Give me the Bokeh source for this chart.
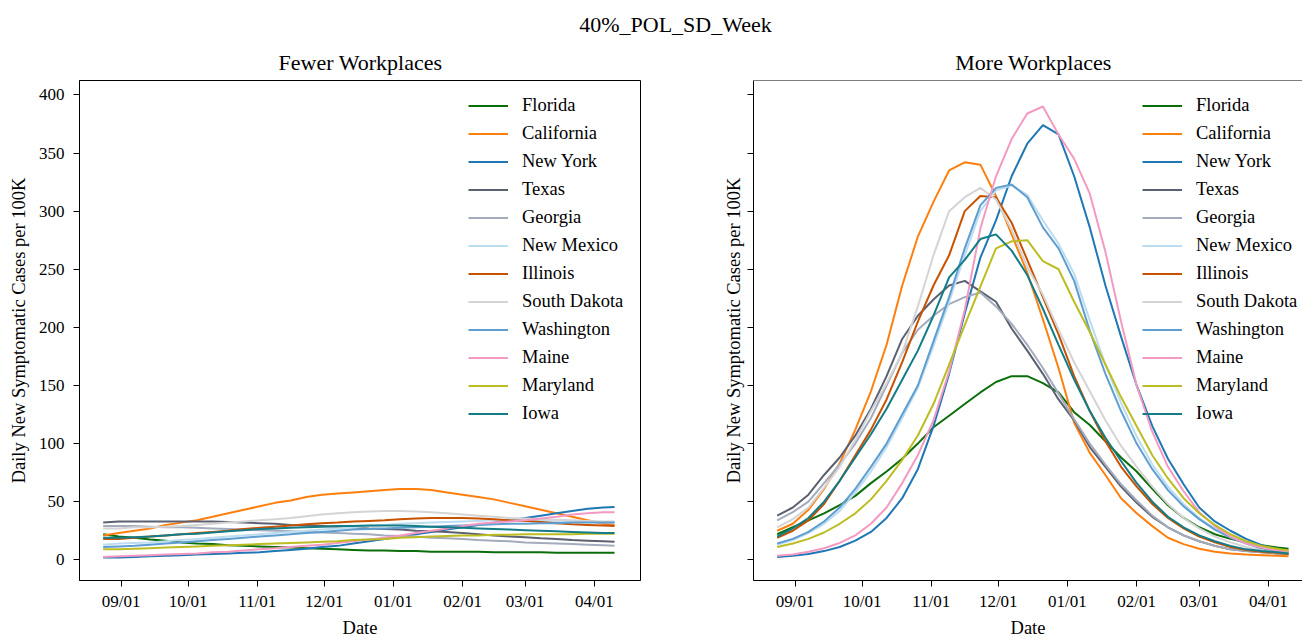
import pandas as pd
from bokeh.plotting import figure
from bokeh.models import (Range1d, FixedTicker, DatetimeTickFormatter, Legend, LegendItem,
                          Label, Span)
from bokeh.layouts import column, row
from bokeh.embed import file_html
from bokeh.resources import INLINE

# ---------------- data (weekly readings) ----------------
dates = pd.to_datetime([
    "2020-08-24", "2020-08-31", "2020-09-07", "2020-09-14", "2020-09-21", "2020-09-28",
    "2020-10-05", "2020-10-12", "2020-10-19", "2020-10-26", "2020-11-02", "2020-11-09",
    "2020-11-16", "2020-11-23", "2020-11-30", "2020-12-07", "2020-12-14", "2020-12-21",
    "2020-12-28", "2021-01-04", "2021-01-11", "2021-01-18", "2021-01-25", "2021-02-01",
    "2021-02-08", "2021-02-15", "2021-02-22", "2021-03-01", "2021-03-08", "2021-03-15",
    "2021-03-22", "2021-03-29", "2021-04-05", "2021-04-10"])

tick_dates = ["2020-09-01", "2020-10-01", "2020-11-01", "2020-12-01",
              "2021-01-01", "2021-02-01", "2021-03-01", "2021-04-01"]
y_ticks = [0, 50, 100, 150, 200, 250, 300, 350, 400]

states = ["Florida", "California", "New York", "Texas", "Georgia", "New Mexico",
          "Illinois", "South Dakota", "Washington", "Maine", "Maryland", "Iowa"]
colors = ["#0a6e0a", "#ff7f0e", "#1f77b4", "#5b6170", "#a3abbd", "#bcdcf0",
          "#c85200", "#d4d4d4", "#5f9ed1", "#f49ac2", "#bcbd22", "#137c87"]

# Fewer Workplaces
fewer_florida = [22, 20, 19, 17.5, 16.5, 15, 14, 13.5, 12.5, 12, 11.5, 11, 10.5, 10, 9.5, 9, 8.5, 8,
                 8, 7.5, 7.5, 7, 7, 7, 7, 6.5, 6.5, 6.5, 6.5, 6, 6, 6, 6, 6]
fewer_california = [21, 23, 25, 27, 30, 32, 34, 37, 40, 43, 46, 49, 51, 54, 56, 57, 58, 59,
                    60, 61, 61, 60, 58, 56, 54, 52, 49, 46, 43, 40, 37, 34, 31, 30]
fewer_newyork = [2, 2, 2.5, 3, 3.5, 4, 4.5, 5, 5.5, 6, 6.5, 7.5, 8.5, 9.5, 11, 12, 14, 16,
                 18, 20, 22, 24, 26, 28, 30, 32, 34, 36, 38, 40, 42, 44, 45, 45.5]
fewer_texas = [32, 33, 33, 33, 33, 33, 33, 33, 32.5, 32, 31.5, 31, 30, 29.5, 29, 28.5, 28, 27,
               26.5, 26, 25, 24.5, 24, 23, 22, 21, 20, 19.5, 18.5, 18, 17, 16.5, 16, 15.5]
fewer_georgia = [29, 29, 29, 28.5, 28, 28, 27.5, 27, 26.5, 26, 25.5, 25, 24.5, 24, 23.5, 23, 22.5, 22,
                 21, 20.5, 20, 19, 18.5, 18, 17, 16.5, 16, 15, 14.5, 14, 13.5, 13, 12.5, 12]
fewer_newmexico = [13, 14, 14.5, 15, 16, 17, 18, 19, 20, 21, 22, 23, 24, 25, 26, 27, 28, 29,
                   30, 31, 31.5, 32, 32.5, 33, 33.5, 34, 34, 34, 33.5, 33, 33, 32.5, 32, 32]
fewer_illinois = [18, 18, 19, 20, 21, 22, 23, 24, 25, 26.5, 27.5, 28.5, 29.5, 30.5, 31.5, 32, 33, 33.5,
                  34, 35, 35.5, 36, 36, 36, 35.5, 35, 34, 33.5, 32.5, 31.5, 30.5, 30, 29.5, 29]
fewer_southdakota = [27, 27, 28, 28, 28.5, 29, 30, 31, 32, 33, 34, 35, 36, 37.5, 39, 40, 41, 41.5,
                     42, 42, 41.5, 41, 40, 39, 38, 37, 36, 35.5, 35, 34.5, 34, 33.5, 33, 33]
fewer_washington = [11, 11.5, 12, 13, 14, 15, 16, 17, 18, 19, 20, 21, 22, 23, 24, 25, 26, 26.5,
                    27, 27.5, 28, 28.5, 29, 29.5, 30, 30.5, 31, 31, 31.5, 31.5, 32, 32, 32, 32]
fewer_maine = [2.5, 3, 3.5, 4, 4.5, 5, 5.5, 6.5, 7, 8, 9, 10, 11, 12, 13, 14.5, 16, 17.5,
               19, 21, 23, 25, 27, 29, 31, 32, 33, 34, 35.5, 37, 39, 40, 41, 41]
fewer_maryland = [9, 9, 9.5, 10, 10.5, 11, 11.5, 12, 12.5, 13, 13.5, 14, 14.5, 15, 15.5, 16, 17, 17.5,
                  18, 19, 19.5, 20, 20.5, 21, 21, 21.5, 21.5, 22, 22, 22, 22, 22.5, 22.5, 22.5]
fewer_iowa = [19, 19, 19.5, 20, 21, 22, 22.5, 23.5, 24.5, 25.5, 26.5, 27, 27.5, 28, 28.5, 29, 29, 29.5,
              29.5, 29.5, 29, 28.5, 28, 27.5, 27, 26.5, 26, 25.5, 25, 24.5, 24, 23.5, 23, 23]

# More Workplaces
more_florida = [22, 28, 34, 40, 47, 55, 66, 76, 87, 100, 114, 124, 134, 144, 153, 158, 158, 152,
                144, 127, 116, 102, 88, 76, 61, 47, 36, 28, 22, 18, 15, 12.5, 10.5, 9.5]
more_california = [25, 31, 43, 61, 83, 112, 145, 185, 236, 278, 308, 335, 342, 340, 313, 280, 247, 207,
                    165, 118, 92, 73, 53, 40, 29, 19, 13.5, 9.5, 7, 5.5, 4.5, 4, 3.5, 3]
more_newyork = [2.5, 3.5, 5, 7.5, 11, 16.5, 24, 36, 53, 78, 115, 160, 212, 260, 292, 330, 358, 374,
                366, 330, 286, 236, 192, 150, 115, 87, 65, 45, 33, 25, 18, 12.5, 8.5, 6]
more_texas = [38, 45, 56, 73, 88, 107, 130, 158, 190, 210, 224, 236, 240, 231, 222, 199, 180, 160,
              138, 120, 97, 80, 63, 49, 37, 28, 21, 16, 12, 9, 7.5, 6.5, 5.5, 5]
more_georgia = [34, 41, 50, 66, 82, 100, 122, 150, 178, 198, 210, 220, 226, 230, 218, 203, 185, 165,
                143, 121, 100, 82, 65, 51, 38, 28, 21, 16, 12, 9, 7.5, 6.5, 5.5, 5]
more_newmexico = [13, 17, 23, 31, 42, 58, 76, 97, 122, 148, 184, 222, 262, 300, 318, 322, 314, 292,
                  272, 246, 206, 168, 135, 106, 82, 63, 48, 36, 27, 20, 15, 11, 8.5, 7]
more_illinois = [19, 25, 34, 48, 68, 90, 112, 138, 170, 205, 236, 262, 300, 313, 312, 290, 258, 226,
                 194, 158, 128, 102, 80, 63, 48, 36, 27, 20, 15, 11, 8.5, 7, 6, 5]
more_southdakota = [28, 35, 45, 62, 80, 103, 128, 152, 178, 218, 262, 300, 312, 320, 310, 284, 252, 228,
                    198, 170, 145, 120, 98, 80, 63, 48, 36, 27, 20, 15, 11, 8.5, 7, 6]
more_washington = [14, 18, 24, 33, 45, 61, 80, 100, 125, 150, 188, 226, 268, 305, 320, 323, 312, 286,
                   268, 240, 197, 160, 128, 100, 78, 60, 46, 35, 26, 19, 14, 10, 8, 7]
more_maine = [3.5, 4.5, 7, 10, 14.5, 21, 31, 45, 66, 90, 120, 162, 215, 285, 330, 362, 384, 390,
              366, 345, 315, 265, 205, 150, 110, 80, 59, 41, 29, 20, 14, 10.5, 8, 7]
more_maryland = [11, 14, 18, 23.5, 31, 40, 52, 68, 86, 107, 134, 168, 202, 235, 268, 274, 275, 257,
                 250, 222, 196, 168, 140, 115, 90, 70, 53, 40, 30, 22, 16, 12, 9.5, 8]
more_iowa = [20, 27, 36, 50, 68, 88, 108, 130, 155, 180, 210, 243, 258, 276, 280, 266, 245, 216,
             185, 155, 128, 105, 85, 66, 50, 37, 28, 21, 16, 12, 9, 7.5, 6.5, 5.5]

fewer_series = [fewer_florida, fewer_california, fewer_newyork, fewer_texas, fewer_georgia,
                fewer_newmexico, fewer_illinois, fewer_southdakota, fewer_washington,
                fewer_maine, fewer_maryland, fewer_iowa]
more_series = [more_florida, more_california, more_newyork, more_texas, more_georgia,
               more_newmexico, more_illinois, more_southdakota, more_washington,
               more_maine, more_maryland, more_iowa]

main_title = "40%_POL_SD_Week"
panel_titles = ["Fewer Workplaces", "More Workplaces"]
x_label = "Date"
y_label = "Daily New Symptomatic Cases per 100K"

# ---------------- layout constants ----------------
FONT = "Liberation Serif"
PX_PER_DAY = 2.233
Y0, Y1 = -17.8, 412.4
HDR_H = 76
FIG_H = 564
BORDER_TOP = 4
BORDER_BOTTOM = 57


def x_range_for(frame_w):
    start = pd.Timestamp("2020-09-01") - pd.Timedelta(days=18.6)
    return Range1d(start, start + pd.Timedelta(days=frame_w / PX_PER_DAY))


def make_panel(width, b_left, b_right, series, show_ylabels):
    frame_w = width - b_left - b_right
    p = figure(width=width, height=FIG_H, x_axis_type="datetime",
               x_range=x_range_for(frame_w), y_range=Range1d(Y0, Y1),
               output_backend="svg", toolbar_location=None, tools="",
               min_border_left=b_left, min_border_right=b_right,
               min_border_top=BORDER_TOP, min_border_bottom=BORDER_BOTTOM)
    p.background_fill_color = "white"
    p.border_fill_color = "white"
    p.grid.visible = False

    renderers = []
    for vals, col in zip(series, colors):
        r = p.line(dates, vals, line_color=col, line_width=2)
        renderers.append(r)

    xa = p.xaxis[0]
    xa.ticker = FixedTicker(ticks=[pd.Timestamp(d).value / 1e6 for d in tick_dates])
    fmt = "%m/%d"
    xa.formatter = DatetimeTickFormatter(milliseconds=fmt, seconds=fmt, minsec=fmt, minutes=fmt,
                                         hourmin=fmt, hours=fmt, days=fmt, months=fmt, years=fmt)
    xa.axis_label = x_label
    xa.major_label_standoff = 5
    xa.axis_label_standoff = 4

    ya = p.yaxis[0]
    ya.ticker = FixedTicker(ticks=y_ticks)
    ya.axis_label = y_label
    if show_ylabels:
        ya.major_label_standoff = 9
        ya.axis_label_standoff = 7
    else:
        ya.major_label_overrides = {t: "" for t in y_ticks}
        ya.major_label_standoff = 0
        ya.axis_label_standoff = 4

    for ax in (xa, ya):
        ax.axis_line_color = "black"
        ax.axis_line_width = 1
        ax.major_tick_line_color = "black"
        ax.major_tick_line_width = 1
        ax.major_tick_in = 0
        ax.major_tick_out = 6
        ax.minor_tick_line_color = None
        ax.major_label_text_font = FONT
        ax.major_label_text_font_size = "17px"
        ax.major_label_text_color = "black"
        ax.axis_label_text_font = FONT
        ax.axis_label_text_font_size = "18.5px"
        ax.axis_label_text_font_style = "normal"
        ax.axis_label_text_color = "black"

    items = [LegendItem(label=s, renderers=[r]) for s, r in zip(states, renderers)]
    legend = Legend(items=items, location=(389, 156), glyph_width=40, glyph_height=21,
                    label_height=21, label_standoff=14, spacing=7, padding=5, margin=0,
                    border_line_color=None, background_fill_alpha=0,
                    label_text_font=FONT, label_text_font_size="18.5px",
                    label_text_color="black")
    p.add_layout(legend)
    return p


p1 = make_panel(708, 79, 68, fewer_series, True)
p1.outline_line_color = "black"
p1.outline_line_width = 1

p2 = make_panel(594, 45, 0, more_series, False)
p2.outline_line_color = None
p2.add_layout(Span(location=Y1, dimension="width", line_color="black", line_width=1))

# header with the titles
hdr = figure(width=1302, height=HDR_H, x_range=Range1d(0, 1302), y_range=Range1d(HDR_H, 0),
             output_backend="svg", toolbar_location=None, tools="",
             x_axis_type=None, y_axis_type=None, min_border=0)
hdr.outline_line_color = None
hdr.grid.visible = False
hdr.add_layout(Label(x=675, y=24, text=main_title, text_font=FONT, text_font_size="22px",
                     text_align="center", text_baseline="middle", text_color="black"))
hdr.add_layout(Label(x=360, y=62, text=panel_titles[0], text_font=FONT, text_font_size="22px",
                     text_align="center", text_baseline="middle", text_color="black"))
hdr.add_layout(Label(x=1033, y=62, text=panel_titles[1], text_font=FONT, text_font_size="22px",
                     text_align="center", text_baseline="middle", text_color="black"))

layout = column(hdr, row(p1, p2))
open("out.html", "w").write(file_html(layout, INLINE, title=main_title))
